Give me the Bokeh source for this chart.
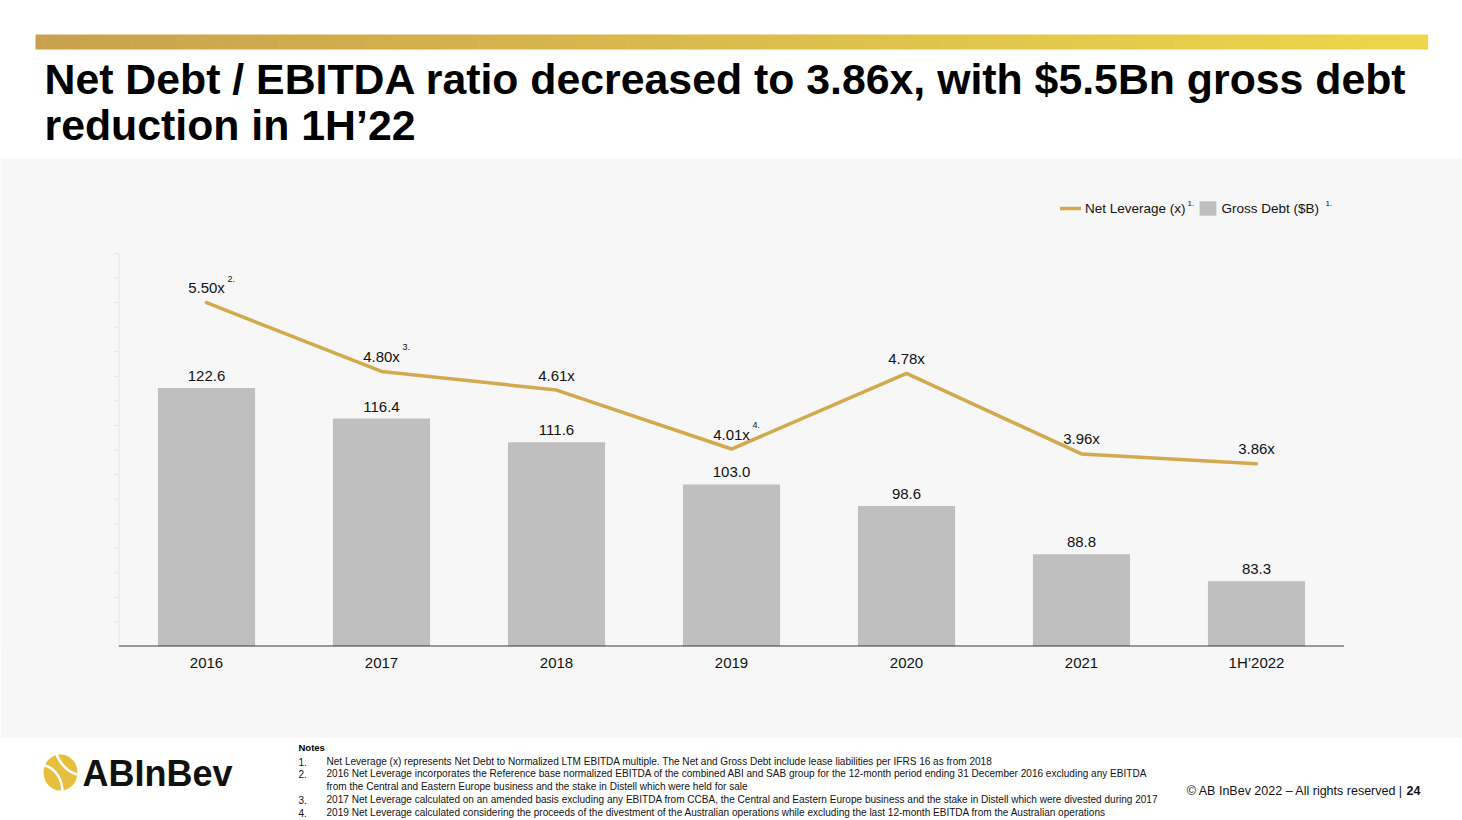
import numpy as np
from bokeh.plotting import figure
from bokeh.layouts import column
from bokeh.models import Range1d, FactorRange, ColumnDataSource, Legend, LegendItem
from bokeh.core.properties import value
from bokeh.embed import file_html
from bokeh.resources import INLINE

# ---------------- data ----------------
periods = ["2016", "2017", "2018", "2019", "2020", "2021", "1H’2022"]
gross_debt = [122.6, 116.4, 111.6, 103.0, 98.6, 88.8, 83.3]
net_leverage = [5.50, 4.80, 4.61, 4.01, 4.78, 3.96, 3.86]
leverage_notes = ["2.", "3.", "", "4.", "", "", ""]
debt_labels = [f"{v:.1f}" for v in gross_debt]
leverage_labels = [f"{v:.2f}x" for v in net_leverage]
debt_axis_ticks = list(range(70, 155, 5))

title_lines = ["Net Debt / EBITDA ratio decreased to 3.86x, with $5.5Bn gross debt",
               "reduction in 1H’22"]
note_numbers = ["1.", "2.", "", "3.", "4."]
note_lines = [
    "Net Leverage (x) represents Net Debt to Normalized LTM EBITDA multiple. The Net and Gross Debt include lease liabilities per IFRS 16 as from 2018",
    "2016 Net Leverage incorporates the Reference base normalized EBITDA of the combined ABI and SAB group for the 12-month period ending 31 December 2016 excluding any EBITDA",
    "from the Central and Eastern Europe business and the stake in Distell which were held for sale",
    "2017 Net Leverage calculated on an amended basis excluding any EBITDA from CCBA, the Central and Eastern Europe business and the stake in Distell which were divested during 2017",
    "2019 Net Leverage calculated considering the proceeds of the divestment of the Australian operations while excluding the last 12-month EBITDA from the Australian operations",
]

FONT = "Liberation Sans"
GOLD = "#D3A94D"
BAR = "#BFBFBF"
BG = "#F7F7F7"
W = 1462
CAT_PX = 175.0  # pixel width of one category
PAD = (W / CAT_PX - len(periods)) / 2  # padding on each side, in category units

# ---------------- header ----------------
hdr = figure(width=W, height=158, x_range=Range1d(0, W), y_range=Range1d(158, 0),
             toolbar_location=None, output_backend="svg", min_border=0,
             x_axis_type=None, y_axis_type=None, outline_line_color=None,
             background_fill_color="white", border_fill_color="white")
hdr.grid.visible = False
n = 160
xs = np.linspace(35, 1427, n + 1)
c0 = np.array([201, 161, 78])
c1 = np.array([238, 214, 74])
cols = ["#%02x%02x%02x" % tuple(int(round(v)) for v in (c0 + (c1 - c0) * t)) for t in np.linspace(0, 1, n)]
hdr.quad(left=xs[:-1], right=xs[1:] + 0.6, top=34, bottom=49, fill_color=cols, line_color=None)
hdr.text(x=[44, 44], y=[78, 124], text=title_lines, text_font=value(FONT), text_font_style="bold",
         text_font_size="42.8px", text_baseline="middle", text_align="left", text_color="#000000")

# ---------------- chart ----------------
src = ColumnDataSource(dict(period=periods, debt=gross_debt, lev=net_leverage,
                            debt_lbl=debt_labels, lev_lbl=leverage_labels, note=leverage_notes))
y_start = 70
xr = FactorRange(*periods, range_padding=PAD, range_padding_units="absolute")
ch = figure(width=W, height=580, x_range=xr, y_range=Range1d(y_start, 169.34),
            min_border_left=0, min_border_right=0, min_border_top=0, min_border_bottom=92,
            y_axis_location=None,
            toolbar_location=None, output_backend="svg", outline_line_color=None,
            background_fill_color=BG, border_fill_color=BG)
ch.extra_y_ranges = {"lev": Range1d(2, 6.967), "py": Range1d(646, 158)}
ch.grid.visible = False

# faint left value axis (synthetic categorical x: 0 = left edge of first category)
ch.segment(x0=[0], y0=[debt_axis_ticks[0]], x1=[0], y1=[debt_axis_ticks[-1]],
           line_color="#E6E6E6", line_width=1)
ch.segment(x0=[0] * len(debt_axis_ticks), y0=debt_axis_ticks,
           x1=[-5 / CAT_PX] * len(debt_axis_ticks), y1=debt_axis_ticks,
           line_color="#E6E6E6", line_width=1)

xax = ch.xaxis[0]
xax.axis_line_color = None
xax.major_tick_line_color = None
xax.minor_tick_line_color = None
xax.major_label_text_font = FONT
xax.major_label_text_font_size = "15px"
xax.major_label_text_color = "#111111"
xax.major_label_standoff = 1

bars = ch.vbar(x="period", top="debt", bottom=y_start, width=0.555, source=src,
               fill_color=BAR, line_color=None)
# baseline across the categories
ch.segment(x0=[0], y0=[y_start], x1=[len(periods)], y1=[y_start],
           line_color="#3A3A3A", line_width=1.8)
ch.text(x="period", y="debt", text="debt_lbl", source=src, y_offset=-12,
        text_align="center", text_baseline="middle", text_font=value(FONT),
        text_font_size="15px", text_color="#111111")

line = ch.line(x="period", y="lev", source=src, y_range_name="lev",
               line_color=GOLD, line_width=3.5, line_cap="round", line_join="round")
ch.text(x="period", y="lev", text="lev_lbl", source=src, y_range_name="lev", y_offset=-15,
        text_align="center", text_baseline="middle", text_font=value(FONT),
        text_font_size="15px", text_color="#111111")
ch.text(x="period", y="lev", text="note", source=src, y_range_name="lev", x_offset=21, y_offset=-24,
        text_align="left", text_baseline="middle", text_font=value(FONT),
        text_font_size="9px", text_color="#111111")

legend = Legend(items=[LegendItem(label="Net Leverage (x)", renderers=[line]),
                       LegendItem(label="Gross Debt ($B)", renderers=[bars])],
                location=(1060, 429), orientation="horizontal", glyph_width=21, glyph_height=18,
                label_standoff=4, spacing=11, padding=0, margin=0, label_height=15,
                border_line_color=None, background_fill_alpha=0,
                label_text_font=FONT, label_text_font_size="13.5px", label_text_color="#111111")
ch.add_layout(legend)
# legend footnote markers (synthetic categorical x)
sup_px = np.array([1187, 1325])
ch.text(x=list(sup_px / CAT_PX - PAD), y=[203, 203], text=["1.", "1."], y_range_name="py",
        text_align="left", text_baseline="middle", text_font=value(FONT),
        text_font_size="8px", text_color="#111111")

# ---------------- footer ----------------
ft = figure(width=W, height=82, x_range=Range1d(0, W), y_range=Range1d(82, 0),
            toolbar_location=None, output_backend="svg", min_border=0,
            x_axis_type=None, y_axis_type=None, outline_line_color=None,
            background_fill_color="white", border_fill_color="white")
ft.grid.visible = False
note_y = [23, 35, 48, 61, 74]
ft.text(x=[298], y=[9], text=["Notes"], text_font=value(FONT), text_font_style="bold",
        text_font_size="9.5px", text_baseline="middle", text_color="#000000")
ft.text(x=[298] * 5, y=note_y, text=note_numbers, text_font=value(FONT),
        text_font_size="10px", text_baseline="middle", text_color="#111111")
ft.text(x=[326] * 5, y=note_y, text=note_lines, text_font=value(FONT),
        text_font_size="10.05px", text_baseline="middle", text_color="#111111")
ft.text(x=[1403], y=[52], text=["© AB InBev 2022 – All rights reserved |"], text_font=value(FONT),
        text_font_size="12.5px", text_align="right", text_baseline="middle", text_color="#111111")
ft.text(x=[1406], y=[52], text=["24"], text_font=value(FONT), text_font_style="bold",
        text_font_size="12.5px", text_align="left", text_baseline="middle", text_color="#111111")
# logo
ft.ellipse(x=[60], y=[34], width=34, height=36, fill_color="#E6C03C", line_color=None)
ft.bezier(x0=[44], y0=[27], x1=[62], y1=[54], cx0=[56], cy0=[30], cx1=[62], cy1=[42],
          line_color="white", line_width=2.5)
ft.bezier(x0=[56], y0=[16], x1=[77], y1=[36], cx0=[60], cy0=[26], cx1=[68], cy1=[34],
          line_color="white", line_width=2.5)
ft.text(x=[82], y=[35], text=["ABInBev"], text_font=value(FONT), text_font_style="bold",
        text_font_size="36px", text_baseline="middle", text_color="#111111")

layout = column(hdr, ch, ft)
open("out.html", "w").write(file_html(layout, INLINE))
